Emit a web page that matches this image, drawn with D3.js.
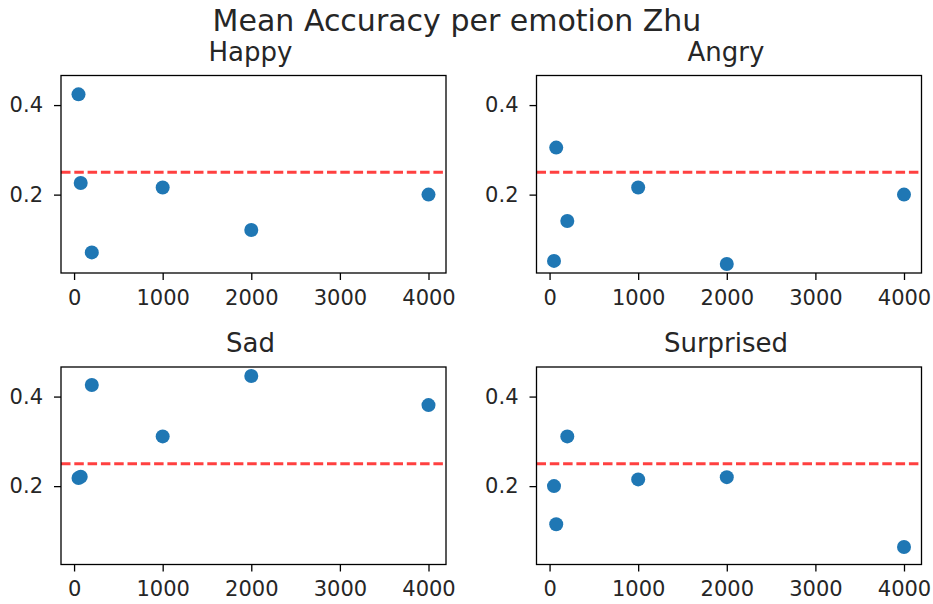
<!DOCTYPE html>
<html>
<head>
<meta charset="utf-8">
<script src="https://cdn.jsdelivr.net/npm/d3@7"></script>
<style>
  body { margin: 0; background: #fff; }
  text { font-family: "DejaVu Sans", sans-serif; fill: #262626; }
</style>
</head>
<body>
<svg width="933" height="604"></svg>
<script>
// data
const xValues = [50, 75, 200, 1000, 2000, 4000];
const emotions = ["Happy", "Angry", "Sad", "Surprised"];
const happy = [0.424, 0.226, 0.071, 0.216, 0.121, 0.200];
const angry = [0.052, 0.305, 0.141, 0.216, 0.045, 0.200];
const sad = [0.218, 0.221, 0.426, 0.311, 0.446, 0.381];
const surprised = [0.200, 0.115, 0.311, 0.215, 0.220, 0.064];
const chanceLevel = 0.25;
const xTicks = [0, 1000, 2000, 3000, 4000];
const yTicks = [0.2, 0.4];
const title = "Mean Accuracy per emotion Zhu";

const series = [happy, angry, sad, surprised];

const svg = d3.select("svg");
svg.append("rect").attr("width", 933).attr("height", 604).attr("fill", "#fff");

// panel boxes (left, top), all same size
const panelW = 385, panelH = 197.5;
const panels = [
    { x: 61, y: 75.5 },
    { x: 536.5, y: 75.5 },
    { x: 61, y: 367 },
    { x: 536.5, y: 367 }
];

// matplotlib style 5% margins, y shared
const pad = (lo, hi) => { const r = hi - lo; return [lo - 0.05 * r, hi + 0.05 * r]; };
const allY = series.flat();
const yDomain = pad(d3.min(allY), d3.max(allY));
const xDomain = pad(d3.min(xValues), d3.max(xValues));

svg.append("text")
    .attr("x", 457)
    .attr("y", 31)
    .attr("text-anchor", "middle")
    .style("font-size", "30px")
    .text(title);

panels.forEach((p, i) => {
    const g = svg.append("g").attr("transform", "translate(" + p.x + "," + p.y + ")");
    const x = d3.scaleLinear().domain(xDomain).range([0, panelW]);
    const y = d3.scaleLinear().domain(yDomain).range([panelH, 0]);

    const xAxis = g.append("g")
        .attr("transform", "translate(0," + panelH + ")")
        .call(d3.axisBottom(x).tickValues(xTicks).tickFormat(d3.format("d")).tickSize(7).tickSizeOuter(0).tickPadding(10));
    const yAxis = g.append("g")
        .call(d3.axisLeft(y).tickValues(yTicks).tickFormat(d3.format(".1f")).tickSize(7).tickSizeOuter(0).tickPadding(11));

    [xAxis, yAxis].forEach(a => {
        a.select(".domain").remove();
        a.selectAll("line").attr("stroke", "#000").attr("stroke-width", 1.3);
        a.selectAll("text").style("font-size", "21px").attr("fill", "#262626").style("font-family", "DejaVu Sans");
    });

    // chance line
    g.append("line")
        .attr("x1", 0).attr("x2", panelW)
        .attr("y1", y(chanceLevel)).attr("y2", y(chanceLevel))
        .attr("stroke", "red")
        .attr("stroke-opacity", 0.75)
        .attr("stroke-width", 3)
        .attr("stroke-dasharray", "9.5 3.8");

    g.selectAll("circle")
        .data(xValues.map((d, j) => [d, series[i][j]]))
        .join("circle")
        .attr("cx", d => x(d[0]))
        .attr("cy", d => y(d[1]))
        .attr("r", 7)
        .attr("fill", "#1f77b4");

    g.append("rect")
        .attr("width", panelW).attr("height", panelH)
        .attr("fill", "none").attr("stroke", "#000").attr("stroke-width", 1.3);

    g.append("text")
        .attr("x", panelW / 2 - 3)
        .attr("y", i < 2 ? -15 : -15)
        .attr("text-anchor", "middle")
        .style("font-size", "26px")
        .text(emotions[i]);
});
</script>
</body>
</html>
